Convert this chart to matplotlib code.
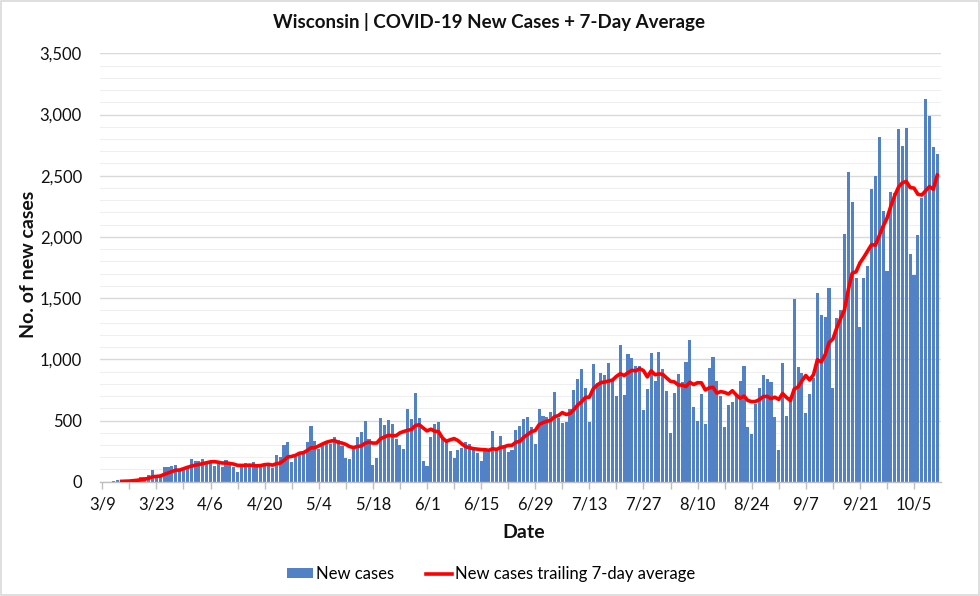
import numpy as np
import pandas as pd
import matplotlib
matplotlib.use('Agg')
import matplotlib.pyplot as plt
from matplotlib.ticker import FuncFormatter, MultipleLocator, FixedLocator
from matplotlib.patches import Patch, Rectangle
from matplotlib.lines import Line2D

plt.rcParams['font.family'] = ['Lato', 'DejaVu Sans']

# 데이터: 3/8 ~ 10/11 일별 신규 확진자
start_date = '2020-03-08'
new_cases = [
    0, 1, 0, 1, 3, 10, 5, 8, 10, 20, 25, 38, 40, 57, 92, 33, 40, 117, 117, 125,
    136, 100, 110, 115, 188, 169, 169, 188, 158, 150, 125, 155, 122, 174, 160, 120,
    79, 120, 155, 140, 160, 135, 135, 130, 139, 109, 218, 199, 296, 324, 163, 199,
    231, 245, 324, 452, 330, 267, 313, 326, 307, 367, 340, 291, 190, 185, 272, 367,
    405, 495, 348, 136, 190, 520, 462, 503, 471, 351, 297, 269, 590, 509, 726, 517,
    166, 128, 367, 473, 484, 367, 326, 253, 196, 258, 277, 324, 310, 270, 231, 169,
    248, 245, 413, 272, 375, 280, 242, 256, 422, 454, 509, 531, 449, 305, 596, 536,
    525, 571, 732, 517, 476, 487, 590, 748, 838, 919, 764, 490, 960, 806, 892, 873,
    971, 821, 699, 1115, 705, 1047, 1009, 944, 949, 585, 754, 1053, 824, 1058, 917, 740,
    394, 721, 879, 813, 982, 1156, 612, 498, 715, 470, 933, 1015, 824, 700, 449, 626,
    653, 699, 824, 944, 449, 386, 634, 762, 870, 838, 811, 532, 258, 971, 539, 690,
    1494, 938, 884, 558, 713, 849, 1542, 1365, 1346, 1580, 762, 1341, 1401, 2026, 2530, 2282,
    1665, 1265, 1667, 1760, 2391, 2497, 2815, 2211, 1722, 2364, 2360, 2883, 2742, 2891, 1863, 1686,
    2015, 2315, 3128, 2984, 2734, 2674,
]

title = 'Wisconsin | COVID-19 New Cases + 7-Day Average'
bar_label = 'New cases'
line_label = 'New cases trailing 7-day average'

dates = pd.date_range(start_date, periods=len(new_cases), freq='D')
df = pd.DataFrame({'date': dates, 'cases': new_cases})
# 3/9 를 0번 위치로 사용
df['x'] = (df['date'] - pd.Timestamp('2020-03-09')).dt.days
df['avg7'] = df['cases'].rolling(7).mean()

fig = plt.figure(figsize=(9.8, 5.96), dpi=100)
ax = fig.add_axes([100 / 980, (596 - 481.7) / 596, 840.7 / 980, (481.7 - 53.3) / 596])

ax.bar(df['x'], df['cases'], width=0.8, color='#5381c6', linewidth=0, zorder=2)
ax.plot(df['x'], df['avg7'], color='#ff0000', linewidth=2.6, zorder=3)

ax.set_xlim(-0.6, 216.9)
ax.set_ylim(0, 3500)

# y축 그리드 (500 단위 주 눈금, 100 단위 보조선)
ax.yaxis.set_major_locator(MultipleLocator(500))
ax.yaxis.set_minor_locator(MultipleLocator(100))
ax.yaxis.set_major_formatter(FuncFormatter(lambda v, p: f'{int(v):,}'))
ax.grid(True, which='major', axis='y', color='#d9d9d9', linewidth=1.0, zorder=0)
ax.grid(True, which='minor', axis='y', color='#efefef', linewidth=0.8, zorder=0)
ax.set_axisbelow(True)

# x축 눈금: 2주마다 라벨, 1주마다 눈금
major_x = df['x'][(df['x'] >= 0) & (df['x'] % 14 == 0)].values
minor_x = df['x'][(df['x'] >= 0) & (df['x'] % 14 == 7)].values
ax.xaxis.set_major_locator(FixedLocator(major_x))
ax.xaxis.set_minor_locator(FixedLocator(minor_x))
lab = df.set_index('x')['date']
ax.set_xticklabels([f'{lab[v].month}/{lab[v].day}' for v in major_x])

ax.tick_params(axis='x', which='both', length=5, color='#bfbfbf', width=1,
               labelsize=12, pad=6, labelcolor='#111111')
ax.tick_params(axis='y', which='both', length=0, labelsize=12, pad=13,
               labelcolor='#111111')

for s in ['top', 'right', 'left']:
    ax.spines[s].set_visible(False)
ax.spines['bottom'].set_color('#bfbfbf')
ax.spines['bottom'].set_linewidth(1)

fig.text(489 / 980, 1 - 22 / 596, title, ha='center', va='center',
         fontsize=13.5, fontweight='bold', color='#111111')
fig.text(29 / 980, 1 - 264 / 596, 'No. of new cases', rotation=90,
         ha='center', va='center', fontsize=14, fontweight='bold', color='#111111')
fig.text(524 / 980, 1 - 533 / 596, 'Date', ha='center', va='center',
         fontsize=14, fontweight='bold', color='#111111')

handles = [Patch(facecolor='#5381c6', edgecolor='none', label=bar_label),
           Line2D([0], [0], color='#ff0000', linewidth=2.6, label=line_label)]
fig.legend(handles=handles, loc='center', bbox_to_anchor=(491 / 980, 1 - 574 / 596),
           ncol=2, frameon=False, fontsize=12, handlelength=1.6,
           handletextpad=0.15, columnspacing=1.9, handleheight=0.55)

# 차트 영역 테두리
fig.patches.append(Rectangle((0.001, 0.001), 0.998, 0.997, transform=fig.transFigure,
                             fill=False, edgecolor='#d9d9d9', linewidth=1.2))

fig.savefig('out.png', dpi=100)
